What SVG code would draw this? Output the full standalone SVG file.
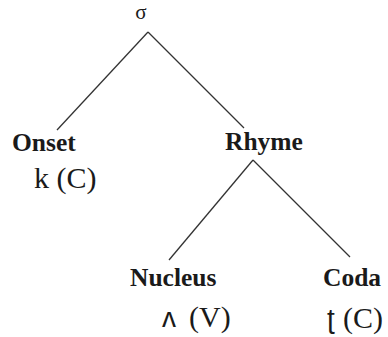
<svg xmlns="http://www.w3.org/2000/svg" width="388" height="337" viewBox="0 0 388 337">
<style>
.lbl{font-family:'Liberation Serif','DejaVu Serif',serif;font-weight:bold;font-size:25.5px;fill:#1a1a1a}
.ph{font-family:'Liberation Serif','DejaVu Serif',serif;font-size:30px;fill:#1a1a1a}
.ipa{font-family:'Liberation Sans','DejaVu Sans',sans-serif;font-size:28px}
.sig{font-family:'Liberation Serif','DejaVu Serif',serif;font-size:21px;fill:#1a1a1a}
.edge{stroke:#333;stroke-width:1.3;fill:none}
</style>
<rect width="388" height="337" fill="#fff"/>
<g id="connectors">
<line class="edge" x1="148" y1="32" x2="57" y2="130"/>
<line class="edge" x1="148" y1="32" x2="244" y2="128"/>
<line class="edge" x1="253" y1="160" x2="169" y2="260"/>
<line class="edge" x1="253" y1="160" x2="350" y2="257"/>
</g>
<g id="sigma"><text class="sig" x="141" y="19" text-anchor="middle">σ</text></g>
<g id="onset">
<text class="lbl" x="12" y="151">Onset</text>
<text class="ph" x="34" y="188">k (C)</text>
</g>
<g id="rhyme"><text class="lbl" x="225" y="150">Rhyme</text></g>
<g id="nucleus">
<text class="lbl" x="130" y="286">Nucleus</text>
<text class="ph" y="327"><tspan class="ipa" x="162">ʌ</tspan><tspan x="189">(V)</tspan></text>
</g>
<g id="coda">
<text class="lbl" x="323" y="286">Coda</text>
<text class="ph" y="328"><tspan class="ipa" x="327">ʈ</tspan><tspan x="343">(C)</tspan></text>
</g>
</svg>
